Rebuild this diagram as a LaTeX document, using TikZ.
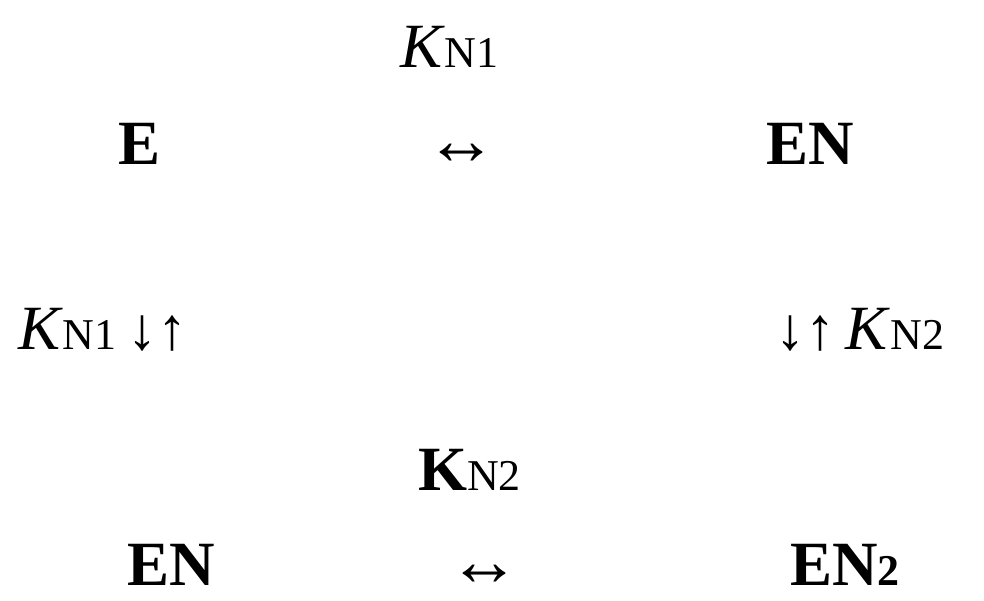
\documentclass[tikz,border=0pt]{standalone}
\usepackage{fontspec}
\setmainfont{Liberation Serif}
\begin{document}
\begin{tikzpicture}[x=1pt,y=1pt,
  lab/.style={inner sep=0pt,anchor=base west,font=\fontsize{63}{63}\selectfont}]
\newcommand{\sm}[1]{{\fontsize{44}{44}\selectfont #1}}
\newcommand{\arw}{{\fontsize{72}{72}\selectfont ↔}}
\newcommand{\du}{{\fontsize{60}{60}\selectfont ↓↑}}
\useasboundingbox (0,0) rectangle (984,600);
\node[lab] (k1) at (400,532) {\textit{K}\sm{N1}};
\node[lab] (e) at (118,435) {\bfseries E};
\node[lab] (a1) at (425,435) {\arw};
\node[lab] (en) at (766,435) {\bfseries EN};
\node[lab] (l) at (18,250) {\textit{K}\sm{N1}\,\du};
\node[lab] (r) at (775,250) {\du\,\textit{K}\sm{N2}};
\node[lab] (k2) at (418,110) {\textbf{K}\sm{N2}};
\node[lab] (en3) at (127,15) {\bfseries EN};
\node[lab] (a2) at (448,15) {\arw};
\node[lab] (en2) at (790,15) {\bfseries EN\sm{2}};
\end{tikzpicture}
\end{document}
